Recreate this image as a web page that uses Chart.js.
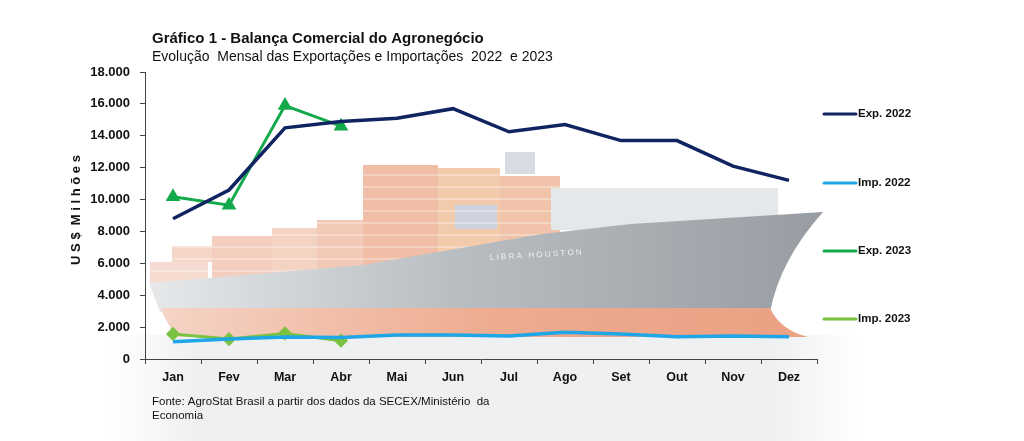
<!DOCTYPE html>
<html>
<head>
<meta charset="utf-8">
<script src="https://cdn.jsdelivr.net/npm/chart.js@4/dist/chart.umd.min.js"></script>
<style>
  html, body { margin: 0; padding: 0; background: #fff; }
  #wrap { width: 1024px; height: 441px; }
</style>
</head>
<body>
<div id="wrap"><canvas id="agro"></canvas></div>
<script>
"use strict";
const months = ["Jan", "Fev", "Mar", "Abr", "Mai", "Jun", "Jul", "Ago", "Set", "Out", "Nov", "Dez"];
const exp2022 = [8800, 10600, 14500, 14900, 15100, 15700, 14250, 14700, 13700, 13700, 12100, 11200];
const imp2022 = [1080, 1250, 1380, 1350, 1500, 1500, 1450, 1670, 1570, 1400, 1450, 1400];
const exp2023 = [10170, 9650, 15900, 14600];
const imp2023 = [1570, 1250, 1600, 1150];
const seriesNames = ["Exp. 2022", "Imp. 2022", "Exp. 2023", "Imp. 2023"];
const seriesColors = ["#0f2461", "#1ea6e6", "#14a94b", "#7cc242"];

const FONT = "'Liberation Sans', Arial, sans-serif";

function thousands(v) {
    if (v === 0) return "0";
    return String(v).replace(/\B(?=(\d{3})+(?!\d))/g, ".");
}

// faded ship photo behind the plot
const shipBackground = {
    id: "shipBackground",
    beforeDraw(chart) {
        const c = chart.ctx;
        c.save();
        // water, fading out at the sides
        const water = c.createLinearGradient(110, 0, 860, 0);
        water.addColorStop(0, "rgba(236,238,240,0)");
        water.addColorStop(0.12, "rgba(236,238,240,0.9)");
        water.addColorStop(0.88, "rgba(236,238,240,0.9)");
        water.addColorStop(1, "rgba(236,238,240,0)");
        c.fillStyle = water;
        c.fillRect(110, 335, 750, 106);

        // containers
        const boxes = [
            [150, 262, 58, 21, "#f6dcd0"], [172, 246, 52, 16, "#f5d6c8"],
            [212, 236, 60, 47, "#f3cdbd"], [272, 228, 45, 55, "#f4d3c3"],
            [317, 220, 46, 63, "#f2c9b6"], [363, 165, 75, 100, "#f0bea6"],
            [438, 168, 62, 90, "#f2cbad"], [500, 176, 60, 72, "#f0c3aa"],
            [455, 205, 42, 24, "#cdd2dc"], [505, 152, 30, 22, "#d8dce2"]
        ];
        boxes.forEach(b => {
            c.fillStyle = b[4];
            c.fillRect(b[0], b[1], b[2], b[3]);
        });
        c.strokeStyle = "rgba(255,255,255,0.6)";
        c.lineWidth = 1;
        for (let y = 175; y < 283; y += 12) {
            c.beginPath();
            c.moveTo(150, y);
            c.lineTo(560, y);
            c.stroke();
        }

        // superstructure
        c.fillStyle = "#e5e8ea";
        c.fillRect(551, 188, 227, 42);

        // hull
        const hull = c.createLinearGradient(150, 0, 820, 0);
        hull.addColorStop(0, "#e6e8ea");
        hull.addColorStop(0.45, "#b9bec2");
        hull.addColorStop(1, "#979da2");
        c.fillStyle = hull;
        c.beginPath();
        c.moveTo(149, 283);
        c.lineTo(363, 265);
        c.lineTo(542, 234);
        c.lineTo(631, 224);
        c.lineTo(823, 212);
        c.quadraticCurveTo(780, 260, 770, 312);
        c.lineTo(160, 312);
        c.closePath();
        c.fill();
        // red bottom
        const keel = c.createLinearGradient(160, 0, 810, 0);
        keel.addColorStop(0, "#f5d4c6");
        keel.addColorStop(0.5, "#eeac90");
        keel.addColorStop(1, "#eba083");
        c.fillStyle = keel;
        c.beginPath();
        c.moveTo(160, 308);
        c.lineTo(770, 308);
        c.quadraticCurveTo(780, 330, 808, 337);
        c.lineTo(175, 337);
        c.closePath();
        c.fill();
        // ship name
        c.fillStyle = "rgba(255,255,255,0.8)";
        c.font = "8px " + FONT;
        c.save();
        c.translate(490, 260);
        c.rotate(-0.06);
        c.fillText("L I B R A   H O U S T O N", 0, 0);
        c.restore();
        c.restore();
    }
};

// titles, axis title, source, legend
const decorations = {
    id: "decorations",
    afterDraw(chart) {
        const c = chart.ctx;
        c.save();
        c.fillStyle = "#111";
        c.textBaseline = "alphabetic";
        c.textAlign = "left";
        c.font = "bold 15px " + FONT;
        c.fillText("Gráfico 1 - Balança Comercial do Agronegócio", 152, 43);
        c.font = "14px " + FONT;
        c.fillText("Evolução  Mensal das Exportações e Importações  2022  e 2023", 152, 61);

        c.font = "11.5px " + FONT;
        c.fillText("Fonte: AgroStat Brasil a partir dos dados da SECEX/Ministério  da", 152, 405);
        c.fillText("Economia", 152, 419);

        // y axis title
        c.save();
        c.translate(76, 210);
        c.rotate(-Math.PI / 2);
        c.textAlign = "center";
        c.textBaseline = "middle";
        c.font = "bold 13px " + FONT;
        c.fillText("U S $  M i l h õ e s", 0, 0);
        c.restore();

        // legend
        const legendY = [114, 183, 251, 319];
        chart.data.datasets.forEach((ds, i) => {
            c.strokeStyle = ds.borderColor;
            c.lineWidth = 3;
            c.lineCap = "round";
            c.beginPath();
            c.moveTo(824, legendY[i]);
            c.lineTo(856, legendY[i]);
            c.stroke();
            c.fillStyle = "#111";
            c.font = "bold 11.5px " + FONT;
            c.textBaseline = "middle";
            c.fillText(ds.label, 858, legendY[i]);
        });
        c.restore();
    }
};

const agroData = {
    labels: months,
    datasets: [
        {
            label: seriesNames[0],
            data: exp2022,
            borderColor: seriesColors[0],
            borderWidth: 3.5,
            pointRadius: 0
        },
        {
            label: seriesNames[1],
            data: imp2022,
            borderColor: seriesColors[1],
            borderWidth: 3.5,
            pointRadius: 0
        },
        {
            label: seriesNames[2],
            data: exp2023,
            borderColor: seriesColors[2],
            backgroundColor: seriesColors[2],
            borderWidth: 3,
            pointStyle: "triangle",
            pointRadius: 5.5
        },
        {
            label: seriesNames[3],
            data: imp2023,
            borderColor: seriesColors[3],
            backgroundColor: seriesColors[3],
            borderWidth: 3,
            pointStyle: "rectRot",
            pointRadius: 5
        }
    ]
};

const agroConfig = {
    type: "line",
    data: agroData,
    plugins: [shipBackground, decorations],
    options: {
        responsive: true,
        maintainAspectRatio: false,
        animation: false,
        layout: {
            padding: { left: 0, right: 207, top: 72, bottom: 0 }
        },
        elements: {
            line: { tension: 0, fill: false },
            point: { borderWidth: 1 }
        },
        plugins: {
            legend: { display: false },
            title: { display: false },
            tooltip: { enabled: false }
        },
        scales: {
            x: {
                offset: true,
                grid: {
                    offset: true,
                    drawOnChartArea: false,
                    drawTicks: true,
                    tickLength: 5,
                    color: "#444"
                },
                border: { display: true, color: "#444", width: 1 },
                ticks: {
                    color: "#111",
                    padding: 6,
                    font: { family: FONT, size: 12.5, weight: "bold" }
                },
                afterFit(scale) { scale.height = 82; }
            },
            y: {
                min: 0,
                max: 18000,
                grid: {
                    drawOnChartArea: false,
                    drawTicks: true,
                    tickLength: 5,
                    color: "#444"
                },
                border: { display: true, color: "#444", width: 1 },
                ticks: {
                    stepSize: 2000,
                    color: "#111",
                    padding: 10,
                    font: { family: FONT, size: 13, weight: "bold" },
                    callback: (v) => thousands(v)
                },
                afterFit(scale) { scale.width = 145; }
            }
        }
    }
};

const agroChart = new Chart(document.getElementById("agro"), agroConfig);
</script>
</body>
</html>
